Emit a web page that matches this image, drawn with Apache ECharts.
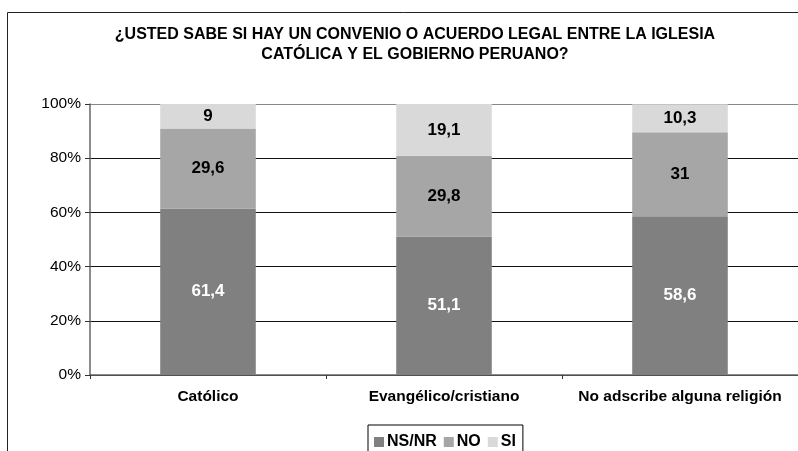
<!DOCTYPE html>
<html>
<head>
<meta charset="utf-8">
<script src="https://cdn.jsdelivr.net/npm/echarts@6/dist/echarts.min.js"></script>
<style>
  html, body { margin: 0; padding: 0; background: #fff; }
  #main { width: 798px; height: 451px; }
</style>
</head>
<body>
<div id="main"></div>
<script>
// datos
var categorias = ['Católico', 'Evangélico/cristiano', 'No adscribe alguna religión'];
var nsnr = [61.4, 51.1, 58.6];
var no = [29.6, 29.8, 31];
var si = [9, 19.1, 10.3];
var ticksY = [0, 20, 40, 60, 80, 100];

var chart = echarts.init(document.getElementById('main'));
var fuente = 'Arial, "Liberation Sans", sans-serif';

function etiqueta(color) {
    return {
        show: true,
        position: 'inside',
        color: color,
        fontFamily: fuente,
        fontWeight: 'bold',
        fontSize: 17,
        formatter: function (p) { return String(p.value).replace('.', ','); }
    };
}

var option = {
    backgroundColor: '#fff',
    animation: false,
    title: {
        text: '¿USTED SABE SI HAY UN CONVENIO O ACUERDO LEGAL ENTRE LA IGLESIA\nCATÓLICA Y EL GOBIERNO PERUANO?',
        left: 410,
        top: 20,
        textAlign: 'center',
        textStyle: {
            fontFamily: fuente,
            fontWeight: 'bold',
            fontSize: 16,
            lineHeight: 20,
            color: '#000'
        }
    },
    graphic: [{
        type: 'rect',
        shape: { x: 7.5, y: 12.5, width: 820, height: 460 },
        style: { fill: 'none', stroke: '#222', lineWidth: 1 },
        silent: true
    }],
    legend: {
        data: ['NS/NR', 'NO', 'SI'],
        left: 368,
        top: 425,
        padding: [9, 7, 20, 6],
        borderColor: '#000',
        borderWidth: 1,
        itemWidth: 10,
        itemHeight: 10,
        itemGap: 7,
        icon: 'rect',
        textStyle: {
            fontFamily: fuente,
            fontWeight: 'bold',
            fontSize: 16,
            color: '#000',
            padding: [0, 0, 0, -2]
        }
    },
    grid: {
        left: 90,
        right: -1,
        top: 104,
        bottom: 76
    },
    xAxis: {
        type: 'category',
        data: categorias,
        axisLine: { lineStyle: { color: '#666', width: 1.5 } },
        axisTick: { show: true, length: 4, lineStyle: { color: '#333' } },
        axisLabel: {
            interval: 0,
            margin: 14,
            color: '#000',
            fontFamily: fuente,
            fontWeight: 'bold',
            fontSize: 15.5
        }
    },
    yAxis: {
        type: 'value',
        min: ticksY[0],
        max: ticksY[ticksY.length - 1],
        interval: 20,
        axisLine: { show: true, lineStyle: { color: '#666', width: 1.5 } },
        axisTick: { show: true, length: 5, lineStyle: { color: '#333' } },
        axisLabel: {
            margin: 9,
            color: '#000',
            fontFamily: fuente,
            fontSize: 15.5,
            formatter: '{value}%'
        },
        splitLine: {
            lineStyle: { color: ['#111', '#111', '#111', '#111', '#111', '#888'], width: 1 }
        }
    },
    series: [{
        name: 'NS/NR',
        type: 'bar',
        stack: 'total',
        barWidth: '40.5%',
        data: nsnr,
        itemStyle: { color: '#808080' },
        label: etiqueta('#fff')
    }, {
        name: 'NO',
        type: 'bar',
        stack: 'total',
        data: no,
        itemStyle: { color: '#a6a6a6' },
        label: etiqueta('#000')
    }, {
        name: 'SI',
        type: 'bar',
        stack: 'total',
        data: si,
        itemStyle: { color: '#d9d9d9' },
        label: etiqueta('#000')
    }]
};

chart.setOption(option);
</script>
</body>
</html>
